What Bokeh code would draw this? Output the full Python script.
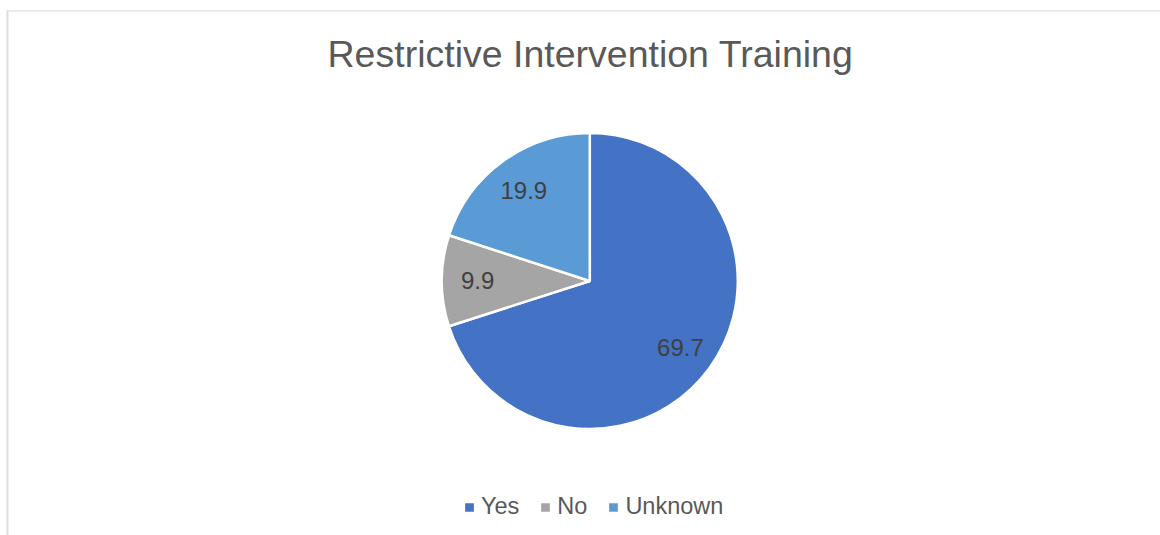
import numpy as np
from bokeh.plotting import figure
from bokeh.models import ColumnDataSource, Range1d, BoxAnnotation, Legend, LegendItem
from bokeh.core.properties import value
from bokeh.embed import file_html
from bokeh.resources import INLINE

# ---- data ----
categories = ["Yes", "No", "Unknown"]
values = [69.7, 9.9, 19.9]
colors = ["#4472C4", "#A5A5A5", "#5B9BD5"]
title_text = "Restrictive Intervention Training"

FONT = "Liberation Sans"
W, H = 1160, 535

p = figure(width=W, height=H, x_range=Range1d(0, W), y_range=Range1d(0, H),
           output_backend="svg", toolbar_location=None,
           x_axis_type=None, y_axis_type=None, min_border=0,
           outline_line_color=None)
p.grid.visible = False
p.background_fill_color = "white"
p.border_fill_color = "white"

# chart-area frame (light gray)
p.add_layout(BoxAnnotation(left=6, right=W, top=525, bottom=524,
                           fill_color="#D9D9D9", fill_alpha=1, line_alpha=0))
p.add_layout(BoxAnnotation(left=6, right=8, top=525, bottom=0,
                           fill_color="#DDDDDD", fill_alpha=1, line_alpha=0))

# ---- pie ----
cx, cy, R = 589.3, 254.5, 148
vals = np.array(values, dtype=float)
fr = vals / vals.sum()
cum = np.concatenate([[0.0], np.cumsum(fr)])
start = np.pi / 2 - 2 * np.pi * cum[:-1]
end = np.pi / 2 - 2 * np.pi * cum[1:]
mid = (start + end) / 2
rl = 0.758 * R
src = ColumnDataSource(dict(
    cat=categories, val=values, color=colors, start=start, end=end,
    lx=cx + rl * np.cos(mid), ly=cy + rl * np.sin(mid),
    label=[f"{v:.1f}" for v in values],
))

wr = p.wedge(x=cx, y=cy, radius=R, start_angle="start", end_angle="end",
             direction="clock", fill_color="color", line_color="white",
             line_width=2.5, source=src)

p.text(x="lx", y="ly", text="label", source=src, text_align="center",
       text_baseline="middle", text_font=value(FONT), text_font_size="24px",
       text_color="#404040")

# ---- title ----
p.text(x=[590], y=[482], text=[title_text], text_align="center",
       text_baseline="middle", text_font=value(FONT),
       text_font_size="37.5px", text_color="#595959")

# ---- legend ----
items = [LegendItem(label=c, renderers=[wr], index=i) for i, c in enumerate(categories)]
legend = Legend(items=items, orientation="horizontal", location=(462, 15),
                glyph_width=14, glyph_height=14, label_standoff=5, spacing=19,
                padding=0, margin=0, border_line_color=None,
                background_fill_alpha=0, label_text_font=FONT,
                label_text_font_size="23.5px", label_text_color="#595959")
p.add_layout(legend)

open("out.html", "w").write(file_html(p, INLINE))
